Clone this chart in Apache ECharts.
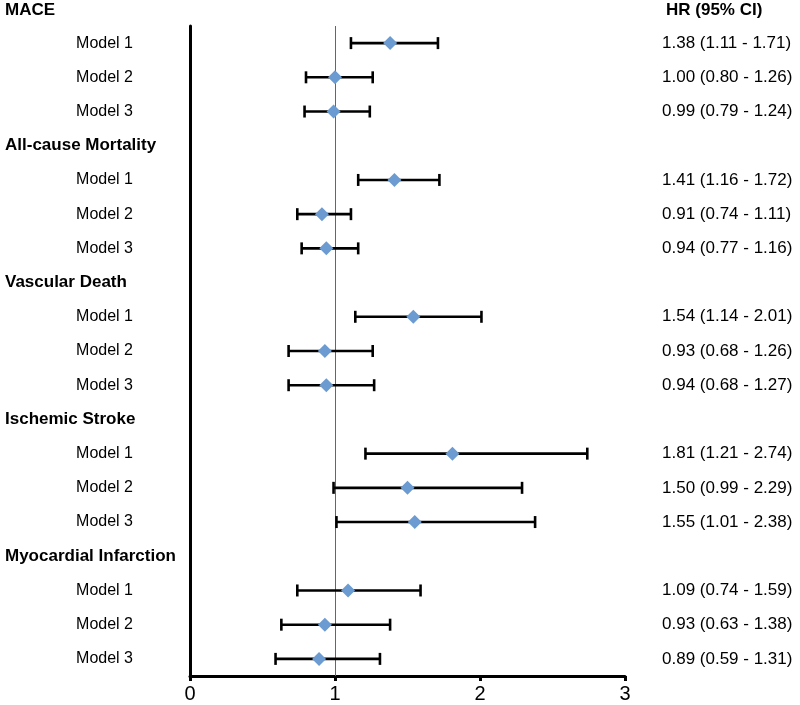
<!DOCTYPE html>
<html>
<head>
<meta charset="utf-8">
<script src="https://cdn.jsdelivr.net/npm/echarts@6/dist/echarts.min.js"></script>
<style>
  html, body { margin: 0; padding: 0; background: #fff; }
  #chart { width: 800px; height: 705px; }
</style>
</head>
<body>
<div id="chart"></div>
<script>
const groups = ['MACE', 'All-cause Mortality', 'Vascular Death', 'Ischemic Stroke', 'Myocardial Infarction'];
const models = ['Model 1', 'Model 2', 'Model 3'];
const hr    = [1.38, 1.00, 0.99, 1.41, 0.91, 0.94, 1.54, 0.93, 0.94, 1.81, 1.50, 1.55, 1.09, 0.93, 0.89];
const lower = [1.11, 0.80, 0.79, 1.16, 0.74, 0.77, 1.14, 0.68, 0.68, 1.21, 0.99, 1.01, 0.74, 0.63, 0.59];
const upper = [1.71, 1.26, 1.24, 1.72, 1.11, 1.16, 2.01, 1.26, 1.27, 2.74, 2.29, 2.38, 1.59, 1.38, 1.31];
const xTicks = [0, 1, 2, 3];
const hrHeader = 'HR (95% CI)';
const refValue = 1;

const FONT = '"Liberation Sans", Arial, sans-serif';

// Rows: first group header is drawn as a title, the other headers are rows
const categories = [];
const isHeader = [];
const rightLabels = [];
const errData = [];
const pointData = [];
let k = 0;
groups.forEach((g, gi) => {
  if (gi > 0) {
    categories.push(g); isHeader.push(true); rightLabels.push('');
  }
  models.forEach((m) => {
    const row = categories.length;
    categories.push(m); isHeader.push(false);
    rightLabels.push(hr[k].toFixed(2) + ' (' + lower[k].toFixed(2) + ' - ' + upper[k].toFixed(2) + ')');
    errData.push([lower[k], upper[k], row]);
    pointData.push([hr[k], row]);
    k++;
  });
});
const nRows = categories.length;

const chart = echarts.init(document.getElementById('chart'), null, { renderer: 'canvas' });

chart.setOption({
  animation: false,
  backgroundColor: '#fff',
  title: [
    { text: groups[0], left: 5, top: 2, padding: 0,
      textStyle: { fontFamily: FONT, fontSize: 17, fontWeight: 'bold', color: '#000' } },
    { text: hrHeader, left: 666, top: 2, padding: 0,
      textStyle: { fontFamily: FONT, fontSize: 17, fontWeight: 'bold', color: '#000' } }
  ],
  grid: { left: 190, right: 175, top: 26, bottom: 29, containLabel: false },
  xAxis: {
    type: 'value', min: xTicks[0], max: xTicks[xTicks.length - 1], interval: 1,
    axisLine: { show: true, onZero: false, lineStyle: { color: '#000', width: 3 } },
    axisTick: { show: true, length: 5, lineStyle: { color: '#000', width: 3 } },
    splitLine: { show: false },
    axisLabel: { fontFamily: FONT, fontSize: 20, color: '#000', margin: 8 }
  },
  yAxis: [
    {
      // value axis used by the series (row index), hidden
      type: 'value', inverse: true, min: -0.5, max: nRows - 0.5, show: false,
      splitLine: { show: false }
    },
    {
      type: 'category', inverse: true, data: categories, position: 'left',
      axisLine: { show: true, onZero: false, lineStyle: { color: '#000', width: 3 } },
      axisTick: { show: false },
      splitLine: { show: false },
      axisLabel: {
        margin: 5, fontFamily: FONT, color: '#000', interval: 0,
        formatter: (v, i) => isHeader[i] ? '{h|' + v + '}' : '{m|' + v + '}',
        rich: {
          h: { fontFamily: FONT, fontSize: 17, fontWeight: 'bold', color: '#000', width: 180, align: 'left' },
          m: { fontFamily: FONT, fontSize: 16, color: '#000', padding: [0, 52, 0, 0] }
        }
      }
    },
    {
      type: 'category', inverse: true, data: categories, position: 'right',
      axisLine: { show: false }, axisTick: { show: false }, splitLine: { show: false },
      axisLabel: {
        margin: 37, interval: 0, fontFamily: FONT, fontSize: 17, color: '#000', align: 'left',
        formatter: (v, i) => rightLabels[i]
      }
    }
  ],
  series: [
    {
      type: 'custom',
      yAxisIndex: 0,
      z: 2,
      data: errData,
      encode: { x: [0, 1], y: 2 },
      renderItem: (params, api) => {
        const p1 = api.coord([api.value(0), api.value(2)]);
        const p2 = api.coord([api.value(1), api.value(2)]);
        const cap = 6;
        const style = { stroke: '#000', lineWidth: 2.6 };
        return {
          type: 'group',
          children: [
            { type: 'line', shape: { x1: p1[0], y1: p1[1], x2: p2[0], y2: p2[1] }, style },
            { type: 'line', shape: { x1: p1[0], y1: p1[1] - cap, x2: p1[0], y2: p1[1] + cap }, style },
            { type: 'line', shape: { x1: p2[0], y1: p2[1] - cap, x2: p2[0], y2: p2[1] + cap }, style }
          ]
        };
      }
    },
    {
      type: 'scatter',
      yAxisIndex: 0,
      z: 3,
      data: pointData,
      symbol: 'diamond',
      symbolSize: [14, 14],
      itemStyle: { color: '#6b9bd1', opacity: 1 },
      markLine: {
        silent: true, symbol: 'none', label: { show: false }, z: 1,
        lineStyle: { color: '#666', width: 1, type: 'solid' },
        data: [{ xAxis: refValue }]
      }
    }
  ]
});
</script>
</body>
</html>
